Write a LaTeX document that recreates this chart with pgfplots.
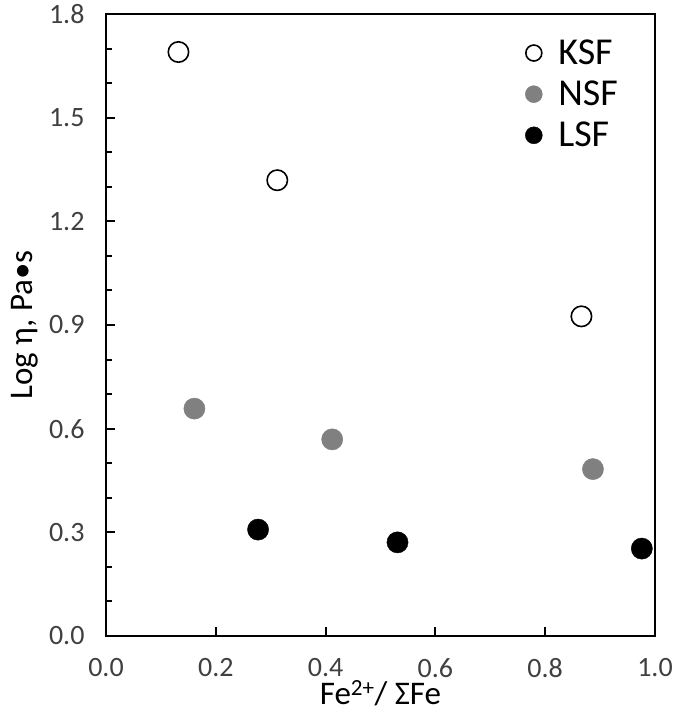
\documentclass[border=0pt]{standalone}
\usepackage{fontspec}
\setmainfont{Carlito}
\usepackage{pgfplots}
\pgfplotsset{compat=1.18}
\definecolor{ticktext}{RGB}{64,64,64}
\definecolor{nsfgray}{RGB}{128,128,128}
\begin{document}
\begin{tikzpicture}
\begin{axis}[
  scale only axis,
  width=549bp, height=622bp,
  xmin=0, xmax=1, ymin=0, ymax=1.8,
  xtick={0,0.2,0.4,0.6,0.8,1.0},
  ytick={0,0.3,0.6,0.9,1.2,1.5,1.8},
  minor y tick num=2,
  xtick pos=bottom, ytick pos=left,
  tick align=inside,
  major tick length=9bp, minor tick length=6bp,
  axis line style={line width=2bp},
  every tick/.style={black, line width=2bp},
  /pgf/number format/assume math mode=true,
  /pgf/number format/fixed, /pgf/number format/fixed zerofill, /pgf/number format/precision=1,
  tick label style={font=\fontsize{28bp}{32bp}\selectfont, text=ticktext},
  xticklabel style={yshift=-21bp, inner sep=1bp},
  yticklabel style={xshift=-18bp},
  xlabel={Fe\textsuperscript{2+}/ ΣFe},
  ylabel={Log η, Pa•s},
  label style={font=\fontsize{33bp}{38bp}\selectfont},
  xlabel style={at={([yshift=-68bp]rel axis cs:0.5,0)}, anchor=base, inner sep=0pt},
  ylabel style={at={([xshift=-73bp]rel axis cs:0,0.5)}, anchor=base},
  legend style={draw=none, fill=none, at={(rel axis cs:0.758,0.965)}, anchor=north west,
    font=\fontsize{38bp}{44bp}\selectfont, row sep=11bp, column sep=14bp, legend cell align=left},
]
\addplot[only marks, mark=*, mark size=10.2bp, mark options={draw=black, fill=white, line width=1.6bp},
  legend image post style={mark size=8bp}]
  coordinates {(0.132,1.690) (0.312,1.319) (0.866,0.925)};
\addlegendentry{KSF}
\addplot[only marks, mark=*, mark size=10.6bp, mark options={draw=nsfgray, fill=nsfgray},
  legend image post style={mark size=8.5bp}]
  coordinates {(0.161,0.658) (0.412,0.569) (0.887,0.483)};
\addlegendentry{NSF}
\addplot[only marks, mark=*, mark size=10.6bp, mark options={draw=black, fill=black},
  legend image post style={mark size=8.5bp}]
  coordinates {(0.277,0.308) (0.531,0.271) (0.976,0.253)};
\addlegendentry{LSF}
\end{axis}
\pgfresetboundingbox
\path (-106bp,-77bp) rectangle (568bp,636bp);
\end{tikzpicture}
\end{document}
